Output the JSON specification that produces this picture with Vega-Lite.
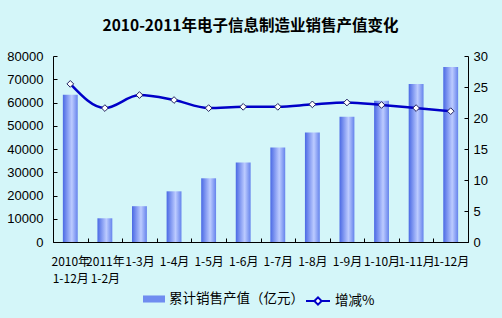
{
  "$schema": "https://vega.github.io/schema/vega-lite/v6.json",
  "width": 415,
  "height": 186,
  "autosize": {"type": "none"},
  "padding": {"left": 53, "top": 56, "right": 34, "bottom": 76},
  "background": "#d4f6f9",
  "title": {
    "text": "2010-2011年电子信息制造业销售产值变化",
    "font": "Noto Sans CJK SC",
    "fontSize": 15.5,
    "fontWeight": "bold",
    "color": "#000000",
    "anchor": "middle",
    "offset": 16,
    "dx": -10
  },
  "data": {
    "values": [
      {"cat": "2010年\n1-12月", "sales": 63300, "growth": 25.5},
      {"cat": "2011年\n1-2月", "sales": 10200, "growth": 21.6},
      {"cat": "1-3月", "sales": 15400, "growth": 23.7},
      {"cat": "1-4月", "sales": 21800, "growth": 22.9},
      {"cat": "1-5月", "sales": 27400, "growth": 21.6},
      {"cat": "1-6月", "sales": 34200, "growth": 21.8},
      {"cat": "1-7月", "sales": 40600, "growth": 21.8},
      {"cat": "1-8月", "sales": 47100, "growth": 22.2},
      {"cat": "1-9月", "sales": 53900, "growth": 22.5},
      {"cat": "1-10月", "sales": 60700, "growth": 22.1},
      {"cat": "1-11月", "sales": 68000, "growth": 21.6},
      {"cat": "1-12月", "sales": 75300, "growth": 21.1}
    ]
  },
  "encoding": {
    "x": {
      "field": "cat",
      "type": "nominal",
      "sort": null,
      "scale": {"padding": 0},
      "axis": {
        "title": null,
        "labelAngle": 0,
        "labelExpr": "split(datum.label, '\\n')",
        "labelOverlap": false,
        "labelLimit": 0,
        "labelFont": "Noto Sans CJK SC",
        "labelFontSize": 12,
        "labelLineHeight": 17,
        "labelPadding": 18,
        "tickBand": "extent",
        "tickSize": -4,
        "labelBaseline": "top"
      }
    }
  },
  "layer": [
    {
      "mark": {
        "type": "bar",
        "width": {"band": 0.43},
        "fill": {
          "gradient": "linear",
          "x1": 0, "y1": 0, "x2": 1, "y2": 0,
          "stops": [
            {"offset": 0, "color": "#4a69e4"},
            {"offset": 0.6, "color": "#bccbff"},
            {"offset": 1, "color": "#6583ec"}
          ]
        }
      },
      "encoding": {
        "y": {
          "field": "sales",
          "type": "quantitative",
          "scale": {"domain": [0, 80000], "nice": false},
          "axis": {
            "title": null,
            "orient": "left",
            "values": [0, 10000, 20000, 30000, 40000, 50000, 60000, 70000, 80000],
            "format": "d",
            "grid": false,
            "tickSize": -4,
            "labelPadding": 14,
            "labelFont": "Liberation Sans",
            "labelFontSize": 13
          }
        }
      }
    },
    {
      "mark": {"type": "point", "opacity": 0, "shape": "square"},
      "encoding": {
        "y": {"field": "sales", "type": "quantitative", "scale": {"domain": [0, 80000], "nice": false}, "axis": null},
        "fill": {
          "datum": "累计销售产值（亿元）",
          "scale": {"range": ["#6f8cf0"]},
          "legend": {
            "title": null,
            "orient": "none",
            "legendX": 90,
            "legendY": 232,
            "symbolType": "M-1,-0.32H1V0.32H-1Z",
            "symbolSize": 484,
            "symbolOpacity": 1,
            "symbolStrokeWidth": 0,
            "labelFont": "Noto Sans CJK SC",
            "labelFontSize": 13.5,
            "labelColor": "#000000"
          }
        }
      }
    },
    {
      "mark": {"type": "line", "interpolate": "monotone", "strokeWidth": 2.5, "color": "#0000c8"},
      "encoding": {
        "y": {
          "field": "growth",
          "type": "quantitative",
          "scale": {"domain": [0, 30], "nice": false},
          "axis": {
            "title": null,
            "orient": "right",
            "values": [0, 5, 10, 15, 20, 25, 30],
            "grid": false,
            "tickSize": -4,
            "labelPadding": 9,
            "labelFont": "Liberation Sans",
            "labelFontSize": 13
          }
        },
        "stroke": {
          "datum": "增减%",
          "scale": {"range": ["#0000c8"]},
          "legend": {
            "title": null,
            "orient": "none",
            "legendX": 252,
            "legendY": 232,
            "symbolType": "M-1,0L-0.3,0M0.3,0L1,0M-0.3,0L0,-0.3L0.3,0L0,0.3Z",
            "symbolSize": 576,
            "symbolStrokeWidth": 2,
            "symbolFillColor": "#ffffff",
            "labelFont": "Noto Sans CJK SC",
            "labelFontSize": 13.5,
            "labelColor": "#000000"
          }
        }
      }
    },
    {
      "mark": {"type": "point", "shape": "diamond", "filled": true, "fill": "#ffffff", "stroke": "#202060", "strokeWidth": 1, "size": 45, "opacity": 1},
      "encoding": {
        "y": {"field": "growth", "type": "quantitative", "scale": {"domain": [0, 30], "nice": false}, "axis": null}
      }
    }
  ],
  "resolve": {"scale": {"y": "independent", "fill": "independent", "stroke": "independent"}},
  "config": {
    "view": {"stroke": null},
    "axis": {
      "domainColor": "#000000",
      "tickColor": "#000000",
      "labelColor": "#000000",
      "domainWidth": 1,
      "tickWidth": 1
    }
  }
}
